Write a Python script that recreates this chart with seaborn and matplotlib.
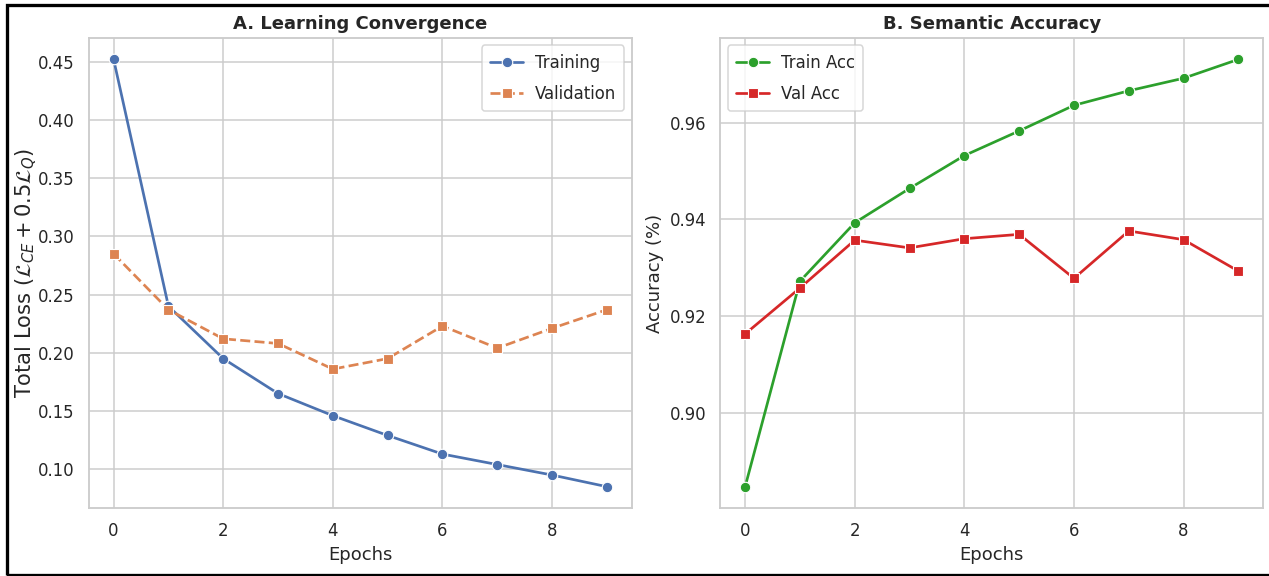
import matplotlib
matplotlib.use("Agg")
import matplotlib.pyplot as plt
from matplotlib.patches import Rectangle
import seaborn as sns

# Training history over 10 epochs
epochs = [0, 1, 2, 3, 4, 5, 6, 7, 8, 9]
train_loss = [0.452, 0.240, 0.195, 0.165, 0.146, 0.129, 0.113, 0.104, 0.095, 0.085]
val_loss = [0.285, 0.237, 0.212, 0.208, 0.186, 0.195, 0.223, 0.204, 0.221, 0.237]
train_acc = [0.8847, 0.9272, 0.9393, 0.9464, 0.9532, 0.9583, 0.9636, 0.9666, 0.9692, 0.9731]
val_acc = [0.9163, 0.9258, 0.9357, 0.9341, 0.9360, 0.9369, 0.9278, 0.9376, 0.9358, 0.9293]

sns.set_theme(style="whitegrid", context="notebook")

fig, (ax1, ax2) = plt.subplots(1, 2, figsize=(1269 / 108, 576 / 108), dpi=108)
fig.subplots_adjust(left=0.0701, right=0.9953, top=0.934, bottom=0.118, wspace=0.164)

line_kw = dict(linewidth=1.8, markersize=7)
legend_kw = dict(labelspacing=0.8, borderpad=0.5, borderaxespad=0.45,
                 handletextpad=0.7)

# Panel A: loss curves
sns.lineplot(x=epochs, y=train_loss, ax=ax1, color="#4C72B0", marker="o",
             label="Training", **line_kw)
sns.lineplot(x=epochs, y=val_loss, ax=ax1, color="#DD8452", marker="s",
             linestyle="--", label="Validation", **line_kw)
ax1.set_title("A. Learning Convergence", fontweight="bold")
ax1.set_xlabel("Epochs")
ax1.set_ylabel(r"Total Loss ($\mathcal{L}_{CE} + 0.5\mathcal{L}_Q$)",
               fontsize=14, labelpad=-1)
ax1.legend(loc="upper right", **legend_kw)

# Panel B: accuracy curves
sns.lineplot(x=epochs, y=train_acc, ax=ax2, color="tab:green", marker="o",
             label="Train Acc", **line_kw)
sns.lineplot(x=epochs, y=val_acc, ax=ax2, color="tab:red", marker="s",
             label="Val Acc", **line_kw)
ax2.set_title("B. Semantic Accuracy", fontweight="bold")
ax2.set_xlabel("Epochs")
ax2.set_ylabel("Accuracy (%)")
ax2.legend(loc="upper left", **legend_kw)

for ax in (ax1, ax2):
    ax.set_xticks([0, 2, 4, 6, 8])

# Black frame around the figure
fig.add_artist(Rectangle((7 / 1269, 1.5 / 576), 1.02, 1 - 6.5 / 576,
                         transform=fig.transFigure, fill=False,
                         edgecolor="black", linewidth=2.2, zorder=10))

fig.savefig("out.png", dpi=108)
